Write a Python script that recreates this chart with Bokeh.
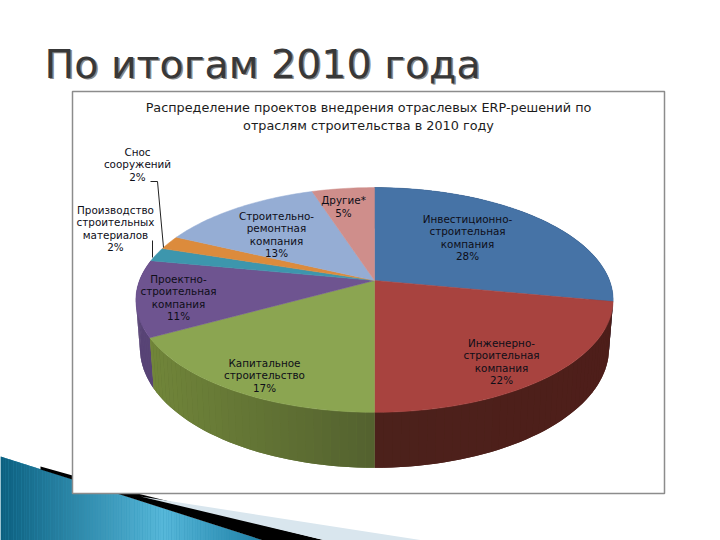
import math
from bokeh.plotting import figure
from bokeh.core.properties import value
from bokeh.embed import file_html
from bokeh.resources import INLINE

# ---- data ----
slide_title = "По итогам 2010 года"
chart_title = "Распределение проектов внедрения отраслевых ERP-решений по\nотраслям строительства в 2010 году"
categories = ["Инвестиционно-\nстроительная\nкомпания", "Инженерно-\nстроительная\nкомпания",
              "Капитальное\nстроительство", "Проектно-\nстроительная\nкомпания",
              "Производство\nстроительных\nматериалов", "Снос\nсооружений",
              "Строительно-\nремонтная\nкомпания", "Другие*"]
values = [28, 22, 17, 11, 2, 2, 13, 5]

# ---- styles / layout ----
top_colors = ["#4673a6", "#a8433f", "#8ba551", "#6e5490", "#3d96ad", "#dc8b3c", "#95add4", "#cf8e8b"]
wall_left = ["#2e4c6e", "#4c211b", "#72873a", "#584476", "#2a6a7c", "#9c6128", "#6a7ba0", "#935f5d"]
wall_right = ["#2e4c6e", "#4e1e1a", "#53612f", "#584476", "#2a6a7c", "#9c6128", "#6a7ba0", "#935f5d"]
label_xy = [(467, 237), (501, 361), (264, 375), (178, 297), (115, 228), (137, 164), (276, 234), (343, 206)]
CX, APEX_Y, R, A, K = 374, 280, 235, 109, 0.173
LOW_APEX_Y, LOW_R, LOW_A = 327, 231, 116


def project(theta, apex_y, r, a):
    u, v = math.sin(theta), math.cos(theta)
    w = 1 + K * v
    return CX + r * u / w, apex_y - a * v / w


def mix(c1, c2, t):
    rgb = [round(int(c1[i:i + 2], 16) * (1 - t) + int(c2[i:i + 2], 16) * t) for i in (1, 3, 5)]
    return "#%02x%02x%02x" % tuple(rgb)


p = figure(width=720, height=540, x_range=(0, 720), y_range=(540, 0),
           x_axis_type=None, y_axis_type=None, toolbar_location=None,
           output_backend="svg", min_border=0, outline_line_color=None,
           background_fill_color="white", border_fill_color="white")
p.grid.visible = False


def edge(x):
    return 456 + (x / 129) * 41 if x < 129 else 497 + (x - 129) * 43 / 134


# slide decoration, bottom left
p.patch([0, 129, 263, 0], [456, 497, 540, 540], fill_color="#2f93b8", line_color=None)
band_n = 100
for i in range(band_n):
    t0, t1 = i / band_n, (i + 1) / band_n
    mid = (t0 + t1) / 2
    col = mix("#0b5f7f", "#57b8da", mid / 0.62) if mid < 0.62 else mix("#57b8da", "#1f7fa5", (mid - 0.62) / 0.38)
    x0, x1 = 263 * t0, 263 * t1
    p.patch([x0, x1, x1, x0], [edge(x0), edge(x1), 540, 540], fill_color=col, line_color=None)
p.patch([40, 129, 325, 263, 129, 40], [466, 491, 540, 540, 497, 469], fill_color="black", line_color=None)
p.patch([140, 423, 325], [496, 540, 540], fill_color="#d9e6ee", line_color=None)

# chart panel
p.quad(left=[72], right=[664], top=[91], bottom=[493], fill_color="white", line_color="#8c8c8c", line_width=1.5)

# pie walls then faces
total = sum(values)
edges = [0]
for val in values:
    edges.append(edges[-1] + val)
for idx in [0, 3, 1, 2]:
    a0, a1 = edges[idx] / total * 2 * math.pi, edges[idx + 1] / total * 2 * math.pi
    n = max(6, values[idx] * 2)
    up = [project(a0 + (a1 - a0) * j / n, APEX_Y, R, A) for j in range(n + 1)]
    lo = [project(a0 + (a1 - a0) * j / n, LOW_APEX_Y, LOW_R, LOW_A) for j in range(n + 1)]
    base = mix(wall_left[idx], wall_right[idx], 0.5)
    outline = up + lo[::-1]
    p.patch([q[0] for q in outline], [q[1] for q in outline], fill_color=base, line_color=None)
    for j in range(n):
        pts = [up[j], up[j + 1], lo[j + 1], lo[j]]
        xm = (pts[0][0] + pts[1][0]) / 2
        t = (xm - 140) / (374 - 140) if idx == 2 else ((xm - 374) / 240 if idx == 1 else j / n)
        col = mix(wall_left[idx], wall_right[idx], min(max(t, 0), 1))
        p.patch([q[0] for q in pts], [q[1] for q in pts], fill_color=col, line_color=None)

for idx, val in enumerate(values):
    a0, a1 = edges[idx] / total * 2 * math.pi, edges[idx + 1] / total * 2 * math.pi
    n = max(6, val * 3)
    arc = [project(a0 + (a1 - a0) * j / n, APEX_Y, R, A) for j in range(n + 1)]
    p.patch([CX] + [q[0] for q in arc], [APEX_Y] + [q[1] for q in arc],
            fill_color=top_colors[idx], line_color=top_colors[idx], line_width=0.5)

# leader lines
p.line([150, 157, 163], [181, 181, 247], line_color="#222222", line_width=1)
p.line([152, 152], [240, 257], line_color="#222222", line_width=1)

# texts
p.text([45.5], [64.5], text=[slide_title], text_font=value("DejaVu Sans"), text_font_size="39.5px",
       text_color="#8a8a8a", text_align="left", text_baseline="middle")
p.text([44], [63], text=[slide_title], text_font=value("DejaVu Sans"), text_font_size="39.5px",
       text_color="#383838", text_align="left", text_baseline="middle")
p.text([368], [116], text=[chart_title], text_font=value("DejaVu Sans"), text_font_size="12.8px",
       text_color="#1c1c1c", text_align="center", text_baseline="middle", text_line_height=1.2)
labels = [f"{c}\n{v}%" for c, v in zip(categories, values)]
p.text([q[0] for q in label_xy], [q[1] for q in label_xy], text=labels,
       text_font=value("DejaVu Sans"), text_font_size="10.4px", text_color="#0e0e18",
       text_align="center", text_baseline="middle", text_line_height=1.05)

open("out.html", "w").write(file_html(p, INLINE))
